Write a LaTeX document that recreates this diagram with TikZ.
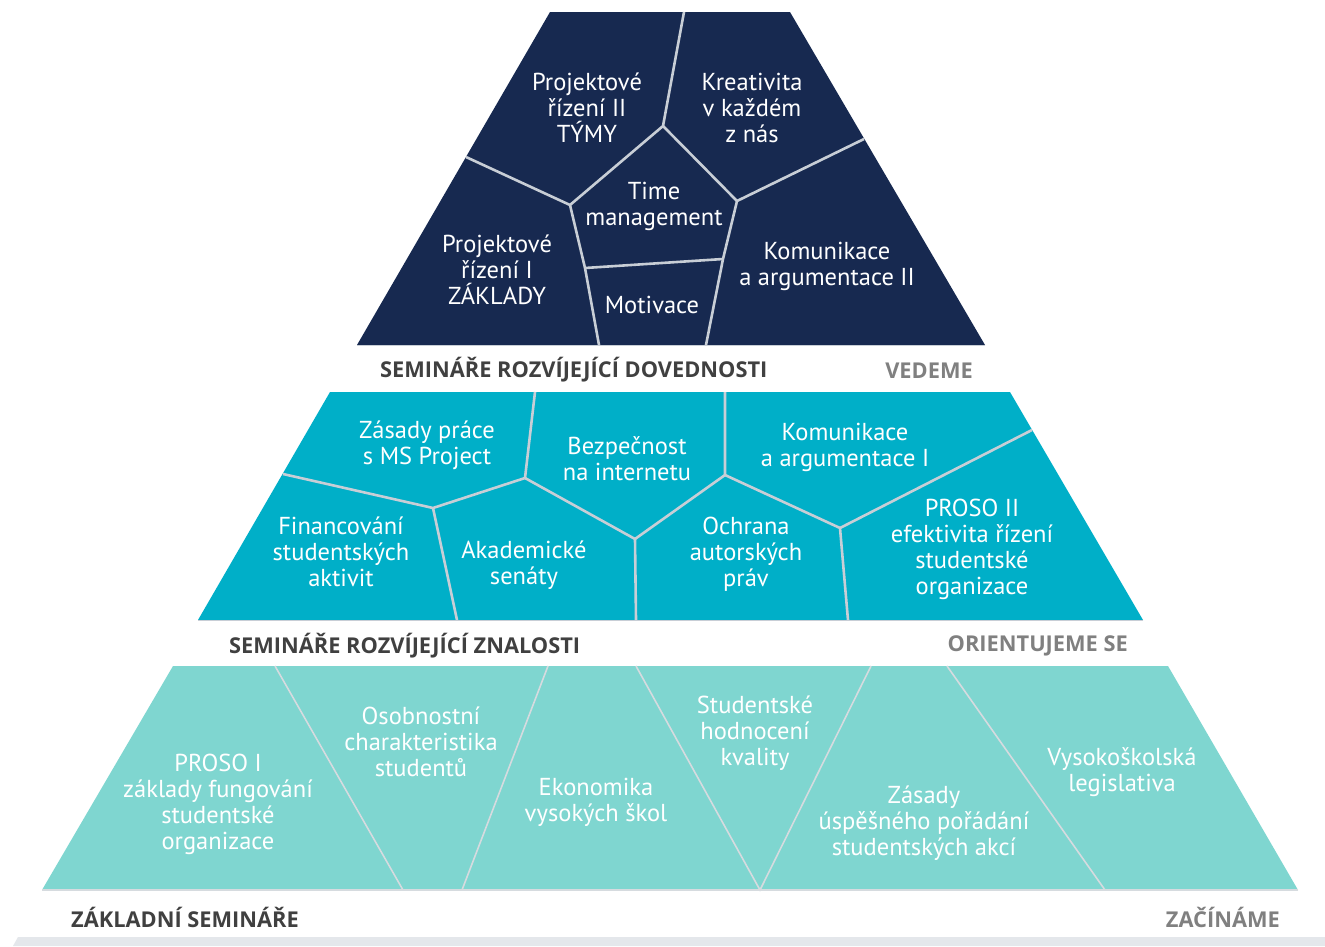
\documentclass[tikz,border=0pt]{standalone}
\usepackage{fontspec}
\setmainfont{PT Sans}
\newfontfamily\labfont{Open Sans}
\definecolor{navy}{RGB}{23,41,80}
\definecolor{teal}{RGB}{0,175,200}
\definecolor{lteal}{RGB}{127,214,208}
\definecolor{sep}{RGB}{200,206,214}
\definecolor{lsep}{RGB}{214,219,223}
\definecolor{dlabel}{RGB}{64,64,64}
\definecolor{glabel}{RGB}{128,128,128}
\definecolor{band}{RGB}{228,231,235}
\begin{document}
\begin{tikzpicture}[x=1pt,y=-1pt,
  txt/.style={text=white, align=center, inner sep=0pt, font=\fontsize{24.5}{26}\selectfont},
  seprule/.style={draw=sep, line width=2.6pt},
  lseprule/.style={draw=lsep, line width=1.6pt},
  lab/.style={anchor=west, inner sep=0pt, text=dlabel, font=\labfont\bfseries\fontsize{21.8}{24}\selectfont},
  glab/.style={anchor=east, inner sep=0pt, text=glabel, font=\labfont\bfseries\fontsize{21.8}{24}\selectfont}]
\useasboundingbox (0,0) rectangle (1325,946);
\fill[white] (0,0) rectangle (1325,946);

% ---------- top (navy) ----------
\coordinate (TL) at (550,12);  \coordinate (TR) at (790,12);
\coordinate (BR) at (985,345); \coordinate (BL) at (357,345);
\coordinate (S1) at (684,12);  \coordinate (P1) at (663,126);
\coordinate (PL) at (570,205); \coordinate (PR) at (737,201);
\coordinate (PBL) at (585,268); \coordinate (PBR) at (723,259);
\coordinate (EL) at (466,157); \coordinate (ER) at (864,139);
\coordinate (BB1) at (599,345); \coordinate (BB2) at (706,345);
\fill[navy] (TL) -- (TR) -- (BR) -- (BL) -- cycle;
\draw[sep, line width=1pt] (BL) -- (BR);
\draw[seprule] (S1) -- (P1) -- (PL) -- (EL);
\draw[seprule] (P1) -- (PR) -- (ER);
\draw[seprule] (PL) -- (PBL) -- (BB1);
\draw[seprule] (PR) -- (PBR) -- (BB2);
\draw[seprule] (PBL) -- (PBR);

\node[txt] (t1) at (587,108) {Projektové\\řízení II\\TÝMY};
\node[txt] (t2) at (752,108) {Kreativita\\v každém\\z nás};
\node[txt] (t3) at (654,206) {Time\\management};
\node[txt] (t4) at (497,270) {Projektové\\řízení I\\ZÁKLADY};
\node[txt] (t5) at (652,305) {Motivace};
\node[txt] (t6) at (827,266) {Komunikace\\a argumentace II};

\node[lab] (l1) at (380,370) {SEMINÁŘE ROZVÍJEJÍCÍ DOVEDNOSTI};
\node[glab] (g1) at (973,371) {VEDEME};

% ---------- middle (teal) ----------
\coordinate (MTL) at (330,392); \coordinate (MTR) at (1010,392);
\coordinate (MBR) at (1143,620); \coordinate (MBL) at (198,620);
\coordinate (M1) at (535,392); \coordinate (A) at (525,478);
\coordinate (B) at (433,508); \coordinate (ML) at (283,474);
\coordinate (BB) at (457,620); \coordinate (C) at (635,539);
\coordinate (CB) at (636,620); \coordinate (D) at (725,475);
\coordinate (DT) at (725,392); \coordinate (E) at (840,528);
\coordinate (EB) at (848,620); \coordinate (MR) at (1032,430);
\fill[teal] (MTL) -- (MTR) -- (MBR) -- (MBL) -- cycle;
\draw[sep, line width=1pt] (MBL) -- (MBR);
\draw[seprule] (M1) -- (A) -- (B) -- (ML);
\draw[seprule] (B) -- (BB);
\draw[seprule] (A) -- (C) -- (CB);
\draw[seprule] (C) -- (D) -- (DT);
\draw[seprule] (D) -- (E) -- (EB);
\draw[seprule] (E) -- (MR);

\node[txt] (m1) at (427,445) {Zásady práce\\s MS Project};
\node[txt] (m2) at (627,459) {Bezpečnost\\na internetu};
\node[txt] (m3) at (845,447) {Komunikace\\a argumentace I};
\node[txt] (m4) at (341,552) {Financování\\studentských\\aktivit};
\node[txt] (m5) at (524,565) {Akademické\\senáty};
\node[txt] (m6) at (746,554) {Ochrana\\autorských\\práv};
\node[txt] (m7) at (972,549) {PROSO II\\efektivita řízení\\studentské\\organizace};

\node[lab] (l2) at (229,646) {SEMINÁŘE ROZVÍJEJÍCÍ ZNALOSTI};
\node[glab] (g2) at (1128,646) {ORIENTUJEME SE};

% ---------- bottom (light teal) ----------
\coordinate (LTL) at (173,666); \coordinate (LTR) at (1168,666);
\coordinate (LBR) at (1298,890); \coordinate (LBL) at (42,890);
\coordinate (q1t) at (275,666); \coordinate (q1b) at (403,890);
\coordinate (q2t) at (548,666); \coordinate (q2b) at (462,890);
\coordinate (q3t) at (636,666); \coordinate (qv) at (760,890);
\coordinate (q4t) at (871,666);
\coordinate (q5t) at (947,666); \coordinate (q5b) at (1105,890);
\fill[lteal] (LTL) -- (LTR) -- (LBR) -- (LBL) -- cycle;
\draw[lsep, line width=1.2pt] (LBL) -- (LBR);
\draw[lseprule] (q1t) -- (q1b);
\draw[lseprule] (q2t) -- (q2b);
\draw[lseprule] (q3t) -- (qv) -- (q4t);
\draw[lseprule] (q5t) -- (q5b);

\node[txt] (b1) at (218,804) {PROSO I\\základy fungování\\studentské\\organizace};
\node[txt] (b2) at (421,742) {Osobnostní\\charakteristika\\studentů};
\node[txt] (b3) at (596,802) {Ekonomika\\vysokých škol};
\node[txt] (b4) at (755,733) {Studentské\\hodnocení\\kvality};
\node[txt] (b5) at (924,823) {Zásady\\úspěšného pořádání\\studentských akcí};
\node[txt] (b6) at (1122,772) {Vysokoškolská\\legislativa};

\node[lab] (l3) at (71,917) {ZÁKLADNÍ SEMINÁŘE};
\node[glab] (g3) at (1280,917) {ZAČÍNÁME};

% bottom band
\fill[band] (18,937) -- (1325,937) -- (1325,946) -- (13,946) -- cycle;
\end{tikzpicture}
\end{document}
